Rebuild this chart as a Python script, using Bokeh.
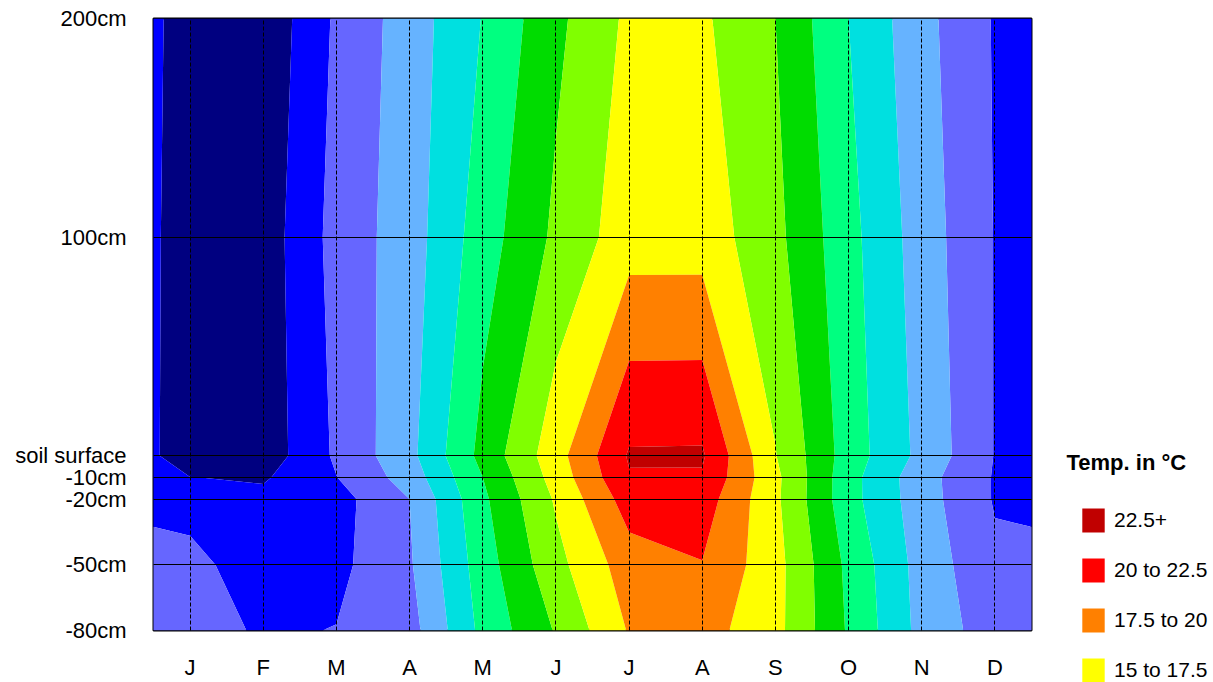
import numpy as np
from bokeh.plotting import figure
from bokeh.layouts import row
from bokeh.models import (FixedTicker, Legend, LegendItem, Label, Range1d)
from bokeh.embed import file_html
from bokeh.resources import INLINE

FONT = "Liberation Sans"

# ---- data -------------------------------------------------------------
months = ["J", "F", "M", "A", "M", "J", "J", "A", "S", "O", "N", "D"]
month_pos = list(range(12))
depths = [-80, -50, -20, -10, 0, 100, 200]
depth_labels = ["-80cm", "-50cm", "-20cm", "-10cm", "soil surface", "100cm", "200cm"]

# temperature (deg C) per month at each height / depth
t_200 = [-3.8, -4.4, 0.4, 3.7, 7.6, 11.9, 15.5, 15.4, 12.5, 7.5, 3.3, -0.2]
t_100 = [-4.1, -3.9, 0.9, 3.8, 8.8, 13.0, 16.4, 16.4, 13.2, 8.3, 3.8, -0.1]
t_0 = [-4.2, -4.0, 0.4, 4.3, 10.8, 16.5, 22.75, 22.8, 15.1, 8.8, 4.3, -0.1]
t_m10 = [-2.45, -2.8, -0.05, 3.6, 10.0, 16.0, 22.3, 22.25, 15.6, 8.4, 3.5, -0.2]
t_m20 = [-1.0, -1.8, -0.95, 2.5, 9.5, 15.3, 21.2, 21.3, 15.5, 8.4, 3.6, -0.2]
t_m50 = [0.8, -1.5, -0.65, 2.2, 8.8, 14.2, 18.8, 19.9, 15.9, 9.4, 4.0, 0.5]
t_m80 = [1.0, -0.3, 0.07, 1.5, 8.2, 12.7, 17.7, 18.5, 15.8, 9.7, 4.2, 1.2]

levels = [-30.0, -2.5, 0.0, 2.5, 5.0, 7.5, 10.0, 12.5, 15.0, 17.5, 20.0, 22.5, 40.0]
band_colors = ["#000080", "#0000ff", "#6666ff", "#66b3ff", "#00e0e0", "#00ff80",
               "#00dc00", "#80ff00", "#ffff00", "#ff8000", "#ff0000", "#c00000"]
legend_title = "Temp. in °C"
legend_labels = ["22.5+", "20 to 22.5", "17.5 to 20", "15 to 17.5"]
legend_colors = ["#c00000", "#ff0000", "#ff8000", "#ffff00"]

# ---- grid (Dec repeated before Jan, Jan after Dec for the half-month margins)
rows = [t_m80, t_m50, t_m20, t_m10, t_0, t_100, t_200]
x_grid = np.array([-1] + month_pos + [12], dtype=float)
z = np.array([[r[-1]] + r + [r[0]] for r in rows], dtype=float)

p = figure(width=1033, height=682,
           x_range=Range1d(-0.5, 11.5), y_range=Range1d(-80, 200),
           output_backend="svg", toolbar_location=None,
           min_border_left=153, min_border_right=2,
           min_border_top=18, min_border_bottom=50)
p.outline_line_color = "black"
p.outline_line_width = 2
p.background_fill_color = "white"
p.border_fill_color = "white"

cr = p.contour(x=x_grid, y=np.array(depths, dtype=float), z=z, levels=levels,
               fill_color=band_colors, line_color=None)
try:
    cr.fill_renderer.glyph.line_color = cr.fill_renderer.glyph.fill_color
    cr.fill_renderer.glyph.line_width = 0.6
except Exception:
    pass

# axes
for ax in (p.xaxis[0], p.yaxis[0]):
    ax.major_tick_in = 0
    ax.major_tick_out = 0
    ax.minor_tick_in = 0
    ax.minor_tick_out = 0
    ax.axis_line_color = None
    ax.major_label_text_font = FONT
    ax.major_label_text_font_size = "22px"
    ax.major_label_text_color = "black"

yax = p.yaxis[0]
yax.ticker = FixedTicker(ticks=depths)
yax.major_label_overrides = {d: lab for d, lab in zip(depths, depth_labels)}
yax.major_label_standoff = 27

xax = p.xaxis[0]
xax.ticker = FixedTicker(ticks=month_pos)
xax.major_label_overrides = {m: lab for m, lab in zip(month_pos, months)}
xax.major_label_standoff = 24

# grids on top of the filled contours
p.ygrid.ticker = FixedTicker(ticks=depths)
p.ygrid.grid_line_color = "black"
p.ygrid.grid_line_width = 1
p.ygrid.level = "overlay"
p.xgrid.ticker = FixedTicker(ticks=month_pos)
p.xgrid.grid_line_color = "black"
p.xgrid.grid_line_dash = "4 2"
p.xgrid.grid_line_width = 1
p.xgrid.level = "overlay"

# ---- legend panel ------------------------------------------------------
side = figure(width=180, height=682, x_range=Range1d(0, 180), y_range=Range1d(0, 682),
              output_backend="svg", toolbar_location=None,
              x_axis_location=None, y_axis_location=None,
              min_border_left=0, min_border_right=0, min_border_top=0, min_border_bottom=0)
side.outline_line_color = None
side.background_fill_color = "white"
side.border_fill_color = "white"
side.grid.visible = False
for fig in (p, side):
    try:
        fig.frame_align = False
    except Exception:
        pass

items = []
for lab, col in zip(legend_labels, legend_colors):
    r = side.quad(left=[np.nan], right=[np.nan], top=[np.nan], bottom=[np.nan],
                  fill_color=col, line_color=None)
    items.append(LegendItem(label=lab, renderers=[r]))
legend = Legend(items=items, location=(46, -3), glyph_width=28, glyph_height=30,
                label_height=30, spacing=20, padding=0, margin=0, label_standoff=7,
                border_line_color=None, background_fill_alpha=0,
                label_text_font=FONT, label_text_font_size="21px",
                label_text_color="black")
side.add_layout(legend)
side.add_layout(Label(x=33, y=220, text=legend_title, text_font=FONT,
                      text_font_style="bold", text_font_size="22px",
                      text_color="black",
                      text_baseline="middle", text_align="left"))

layout = row(p, side, spacing=0)
open("out.html", "w").write(file_html(layout, INLINE))
